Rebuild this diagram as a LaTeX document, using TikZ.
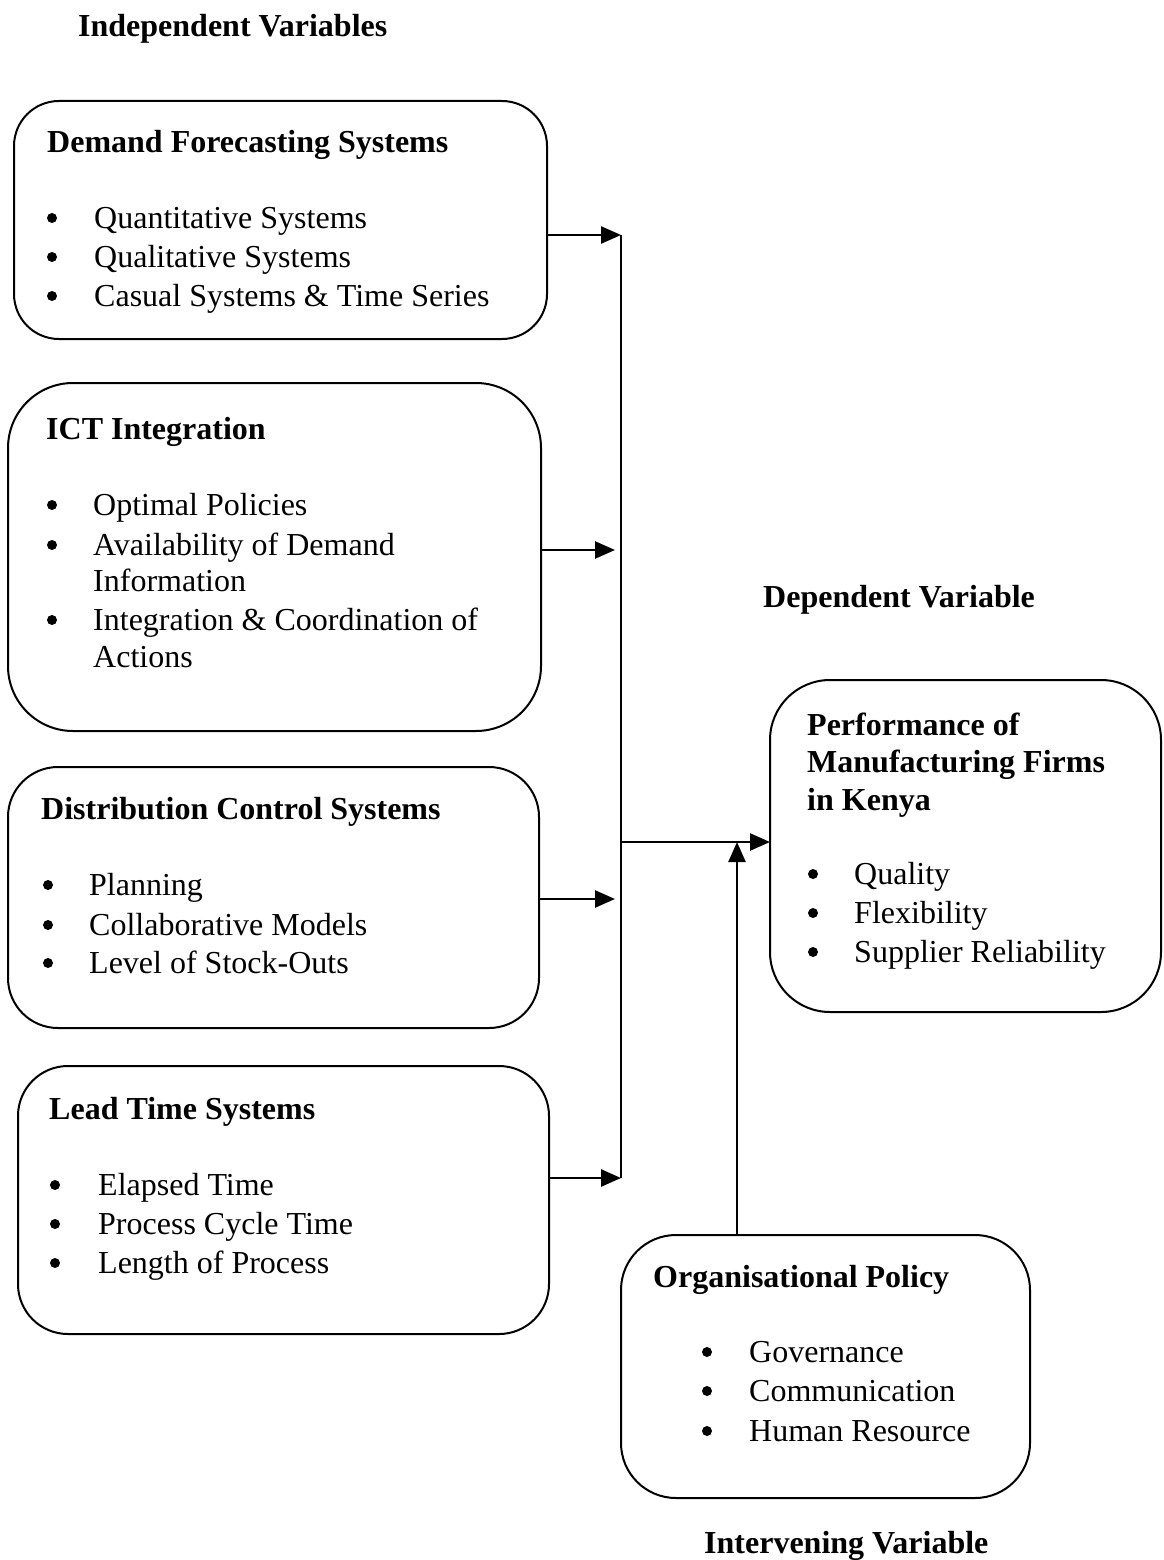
\documentclass[tikz,border=0pt]{standalone}
\usepackage{fontspec}
\setmainfont{Liberation Serif}
\usetikzlibrary{arrows.meta}
\begin{document}
\begin{tikzpicture}[x=1pt,y=-1pt,
  box/.style={draw,line width=2pt,inner sep=0pt,outer sep=0pt},
  txt/.style={anchor=base west,inner sep=0pt,font=\fontsize{32}{39}\selectfont},
  hd/.style={txt,font=\fontsize{32}{39}\selectfont\bfseries},
  bul/.style={circle,fill,inner sep=0pt,minimum size=10pt,yshift=10pt},
  arr/.style={line width=2.5pt,-{Triangle[length=20pt,width=17pt]}},
  ln/.style={line width=2.5pt}]
\useasboundingbox (0,0) rectangle (1163,1560);
% boxes
\node[box,rounded corners=45pt,minimum width=533pt,minimum height=238pt] (b1) at (280.5,220) {};
\node[box,rounded corners=65pt,minimum width=533pt,minimum height=348pt] (b2) at (274.5,557) {};
\node[box,rounded corners=50pt,minimum width=531pt,minimum height=261pt] (b3) at (273.5,897.5) {};
\node[box,rounded corners=50pt,minimum width=531pt,minimum height=268pt] (b4) at (283.5,1200) {};
\node[box,rounded corners=55pt,minimum width=409pt,minimum height=263pt] (b5) at (825.5,1366.5) {};
\node[box,rounded corners=60pt,minimum width=391pt,minimum height=332pt] (b6) at (965.5,846) {};
% headings
\node[hd] (h0) at (78,37) {Independent Variables};
\node[hd] (h1) at (47,152) {Demand Forecasting Systems};
\node[hd] (h2) at (46,439) {ICT Integration};
\node[hd] (h3) at (41,819) {Distribution Control Systems};
\node[hd] (h4) at (49,1119) {Lead Time Systems};
\node[hd] (h5) at (653,1287) {Organisational Policy};
\node[hd] (h6) at (763,607) {Dependent Variable};
\node[hd] (h7) at (807,735) {Performance of};
\node[hd] (h8) at (807,772) {Manufacturing Firms};
\node[hd] (h9) at (807,810) {in Kenya};
\node[hd] (h10) at (704,1553) {Intervening Variable};
% box 1
\foreach \y/\t [count=\i] in {228/Quantitative Systems,267/Qualitative Systems,306/Casual Systems \& Time Series}{
  \node[bul] (a\i) at (52,\y) {};
  \node[txt] (at\i) at (94,\y) {\t};}
% box 2
\node[bul] (c1) at (52,515) {}; \node[txt] (ct1) at (93,515) {Optimal Policies};
\node[bul] (c2) at (52,555) {}; \node[txt] (ct2) at (93,555) {Availability of Demand};
\node[txt] (ct3) at (93,591) {Information};
\node[bul] (c4) at (52,630) {}; \node[txt] (ct4) at (93,630) {Integration \& Coordination of};
\node[txt] (ct5) at (93,667) {Actions};
% box 3
\foreach \y/\t [count=\i] in {895/Planning,935/Collaborative Models,973/Level of Stock-Outs}{
  \node[bul] (d\i) at (48,\y) {};
  \node[txt] (dt\i) at (89,\y) {\t};}
% box 4
\foreach \y/\t [count=\i] in {1195/Elapsed Time,1234/Process Cycle Time,1273/Length of Process}{
  \node[bul] (e\i) at (55,\y) {};
  \node[txt] (et\i) at (98,\y) {\t};}
% box 5
\foreach \y/\t [count=\i] in {1362/Governance,1401/Communication,1441/Human Resource}{
  \node[bul] (f\i) at (707,\y) {};
  \node[txt] (ft\i) at (749,\y) {\t};}
% box 6
\foreach \y/\t [count=\i] in {884/Quality,923/Flexibility,962/Supplier Reliability}{
  \node[bul] (g\i) at (813,\y) {};
  \node[txt] (gt\i) at (854,\y) {\t};}
% connectors
\coordinate (jt) at (621,235);
\coordinate (jb) at (621,1178);
\coordinate (jm) at (621,842);
\coordinate (j2) at (615,550);
\coordinate (j3) at (615,899);
\coordinate (jv) at (737,842);
\draw[ln] (jt) -- (jb);
\draw[arr] (b1.east |- jt) -- (jt);
\draw[arr] (b2.east |- j2) -- (j2);
\draw[arr] (b3.east |- j3) -- (j3);
\draw[arr] (b4.east |- jb) -- (jb);
\draw[arr] (jm) -- (b6.west |- jm);
\draw[arr] (b5.north -| jv) -- (jv);
\end{tikzpicture}
\end{document}
